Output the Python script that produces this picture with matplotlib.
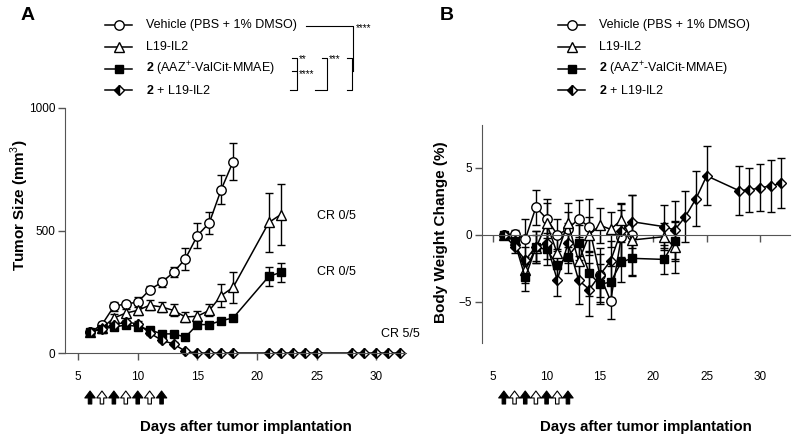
import matplotlib
matplotlib.use("Agg")
import matplotlib.pyplot as plt
from matplotlib.transforms import blended_transform_factory
from matplotlib.patches import FancyArrowPatch

plt.rcParams['font.family'] = ['Liberation Sans', 'DejaVu Sans']
plt.rcParams['mathtext.fontset'] = 'custom'
plt.rcParams['mathtext.rm'] = 'Liberation Sans'
plt.rcParams['mathtext.bf'] = 'Liberation Sans:bold'

# ---- panel A: tumor size (mm3) ----
days_veh = [6, 7, 8, 9, 10, 11, 12, 13, 14, 15, 16, 17, 18]
veh_a = [84, 116, 190, 201, 207, 258, 288, 329, 385, 479, 531, 667, 781]
veh_a_err = [8, 12, 20, 12, 20, 15, 20, 20, 45, 50, 45, 60, 75]

days_22 = [6, 7, 8, 9, 10, 11, 12, 13, 14, 15, 16, 17, 18, 21, 22]
l19_a = [84, 102, 143, 163, 174, 195, 188, 174, 147, 150, 174, 234, 268, 533, 565]
l19_a_err = [8, 10, 15, 15, 20, 20, 20, 25, 20, 20, 25, 48, 63, 120, 125]
cpd_a = [84, 100, 105, 115, 108, 95, 78, 78, 65, 116, 116, 132, 143, 313, 329]
cpd_a_err = [8, 8, 10, 10, 10, 10, 8, 8, 8, 10, 10, 12, 12, 40, 38]

days_32 = [6, 7, 8, 9, 10, 11, 12, 13, 14, 15, 16, 17, 18, 21, 22, 23, 24, 25, 28, 29, 30, 31, 32]
combo_a = [84, 100, 116, 125, 120, 82, 52, 37, 7, 0, 0, 0, 0, 0, 0, 0, 0, 0, 0, 0, 0, 0, 0]
combo_a_err = [8, 8, 10, 10, 10, 8, 8, 6, 4, 0, 0, 0, 0, 0, 0, 0, 0, 0, 0, 0, 0, 0, 0]

# ---- panel B: body weight change (%) ----
veh_b = [0, 0.05, -0.35, 2.05, 1.2, 0, 0.4, 1.2, 0.55, -3.05, -4.95, -0.15, 0]
veh_b_err = [0, 0.3, 1.5, 1.3, 1.45, 1.2, 1.3, 1.4, 2.1, 1.6, 1.35, 2.0, 3.0]
l19_b = [0, -0.4, -2.65, -1.0, 0.85, -1.4, 0.9, -2.0, 0, 0.7, 0.4, 1.1, -0.4, -0.15, -0.95]
l19_b_err = [0, 0.5, 1.0, 1.0, 1.5, 1.2, 1.5, 1.5, 1.3, 1.3, 1.3, 1.3, 1.2, 1.0, 1.9]
cpd_b = [0, -0.5, -3.2, -0.95, -1.1, -2.3, -1.65, -0.6, -2.9, -3.7, -3.55, -2.05, -1.77, -1.85, -0.47]
cpd_b_err = [0, 0.5, 1.0, 1.2, 1.2, 1.2, 1.2, 1.3, 1.7, 1.5, 1.2, 1.5, 1.3, 1.1, 1.5]
combo_b = [0, -0.9, -1.9, -0.9, -0.65, -3.4, -0.65, -3.4, -4.1, -3.0, -1.95, 0.3, 0.97, 0.6, 0.35,
           1.35, 2.7, 4.4, 3.3, 3.35, 3.5, 3.65, 3.85]
combo_b_err = [0, 0.5, 1.0, 1.2, 1.2, 1.2, 1.5, 1.8, 2.0, 2.0, 1.5, 2.0, 2.0, 1.6, 2.2,
               1.9, 2.05, 2.2, 1.8, 1.65, 1.75, 1.95, 1.85]

dose_days = [6, 7, 8, 9, 10, 11, 12]
dose_filled = [True, False, True, False, True, False, True]

labels = ['Vehicle (PBS + 1% DMSO)', 'L19-IL2',
          r'$\mathbf{2}$ (AAZ$^{+}$-ValCit-MMAE)', r'$\mathbf{2}$ + L19-IL2']
styles = [dict(marker='o', mfc='white', ms=6.8),
          dict(marker='^', mfc='white', ms=6.8),
          dict(marker='s', mfc='black', ms=5.8),
          dict(marker='D', mfc='black', mfcalt='white', fillstyle='left', ms=4.8)]

axis_gray = '#555555'

fig = plt.figure(figsize=(8, 4.45), dpi=100)
axA = fig.add_axes([65 / 800, 1 - 353 / 445, (406 - 65) / 800, (353 - 108) / 445])
axB = fig.add_axes([482 / 800, 1 - 343 / 445, (790 - 482) / 800, (343 - 125) / 445])
over = fig.add_axes([0, 0, 1, 1], zorder=-1)
over.set_xlim(0, 800)
over.set_ylim(445, 0)
over.axis('off')


def draw(ax, x, y, e, st):
    kw = dict(st)
    fs = kw.pop('fillstyle', 'full')
    alt = kw.pop('mfcalt', None)
    c = ax.errorbar(x, y, yerr=e, color='black', lw=1.1, capsize=3, elinewidth=1,
                    capthick=1, mec='black', mew=1, fillstyle=fs, **kw)
    if alt:
        c[0].set_markerfacecoloralt(alt)
    for a in c.get_children():
        a.set_clip_on(False)


data_a = [(days_veh, veh_a, veh_a_err), (days_22, l19_a, l19_a_err),
          (days_22, cpd_a, cpd_a_err), (days_32, combo_a, combo_a_err)]
data_b = [(days_veh, veh_b, veh_b_err), (days_22, l19_b, l19_b_err),
          (days_22, cpd_b, cpd_b_err), (days_32, combo_b, combo_b_err)]
for (x, y, e), st in zip(data_a, styles):
    draw(axA, x, y, e, st)
for (x, y, e), st in zip(data_b, styles):
    draw(axB, x, y, e, st)

xt = [5, 10, 15, 20, 25, 30]

# panel A axes
axA.set_xlim(3.9, 32.5)
axA.set_ylim(0, 1000)
axA.set_yticks([0, 500, 1000])
axA.set_xticks(xt)
axA.tick_params(labelbottom=False, labelsize=8.5, length=5, width=1, color=axis_gray, pad=2)
for s in ['top', 'right']:
    axA.spines[s].set_visible(False)
for s in ['left', 'bottom']:
    axA.spines[s].set_color(axis_gray)

axA.text(25, 560, 'CR 0/5', fontsize=9, va='center')
axA.text(25, 329, 'CR 0/5', fontsize=9, va='center')
axA.text(30.4, 78, 'CR 5/5', fontsize=9, va='center')

# panel B axes
axB.set_xlim(3.95, 32.8)
axB.set_ylim(-8.1, 8.2)
axB.set_yticks([-5, 0, 5])
axB.set_xticks(xt)
axB.spines['bottom'].set_position(('data', 0))
axB.tick_params(labelbottom=False, labelsize=8.5, length=5, width=1, color=axis_gray, pad=2)
for s in ['top', 'right']:
    axB.spines[s].set_visible(False)
for s in ['left', 'bottom']:
    axB.spines[s].set_color(axis_gray)

# x tick labels, dosing arrows, axis titles
for ax, xc in [(axA, 246), (axB, 646)]:
    tr = blended_transform_factory(ax.transData, over.transData)
    for t in xt:
        over.text(t, 377, str(t), transform=tr, ha='center', va='center', fontsize=8.5)
    for d, f in zip(dose_days, dose_filled):
        ar = FancyArrowPatch(posA=(d, 404), posB=(d, 391), transform=tr,
                             arrowstyle='simple,head_length=0.5,head_width=0.75,tail_width=0.25',
                             mutation_scale=10, fc='black' if f else 'white', ec='black',
                             lw=0.8, shrinkA=0, shrinkB=0)
        over.add_patch(ar)
    over.text(xc, 427, 'Days after tumor implantation', ha='center', va='center',
              fontsize=10.8, fontweight='bold')

over.text(20, 205, 'Tumor Size (mm$^{3}$)', rotation=90, ha='center', va='center',
          fontsize=11, fontweight='bold')
over.text(441, 232, 'Body Weight Change (%)', rotation=90, ha='center', va='center',
          fontsize=11, fontweight='bold')
over.text(28, 15, 'A', ha='center', va='center', fontsize=14, fontweight='bold')
over.text(447, 15, 'B', ha='center', va='center', fontsize=14, fontweight='bold')

# legends
rows = [25, 47, 69, 90]
for x0, xt0 in [(105, 146), (558, 599)]:
    for yy, lab, st in zip(rows, labels, styles):
        kw = dict(st)
        fs = kw.pop('fillstyle', 'full')
        alt = kw.pop('mfcalt', None)
        ln, = over.plot([x0, x0 + 13.5, x0 + 27], [yy, yy, yy], color='black', lw=1.1,
                        markevery=[1], mec='black', mew=1, fillstyle=fs, **kw)
        if alt:
            ln.set_markerfacecoloralt(alt)
        over.text(xt0, yy, lab, ha='left', va='center', fontsize=9)

# significance brackets (panel A legend)
k = dict(color='black', lw=0.8)
over.plot([306, 353, 353], [26, 26, 71], **k)
over.plot([347, 352, 352, 347], [58, 58, 90, 90], **k)
over.text(356, 28, '****', fontsize=7, va='center')
over.plot([322, 327, 327, 315], [58, 58, 90, 90], **k)
over.text(329, 59, '***', fontsize=7, va='center')
over.plot([292, 297, 297, 290], [58, 58, 90, 90], **k)
over.plot([292, 297], [71, 71], **k)
over.text(299, 59, '**', fontsize=7, va='center')
over.text(299, 74, '****', fontsize=7, va='center')

fig.savefig('out.png', dpi=100)
